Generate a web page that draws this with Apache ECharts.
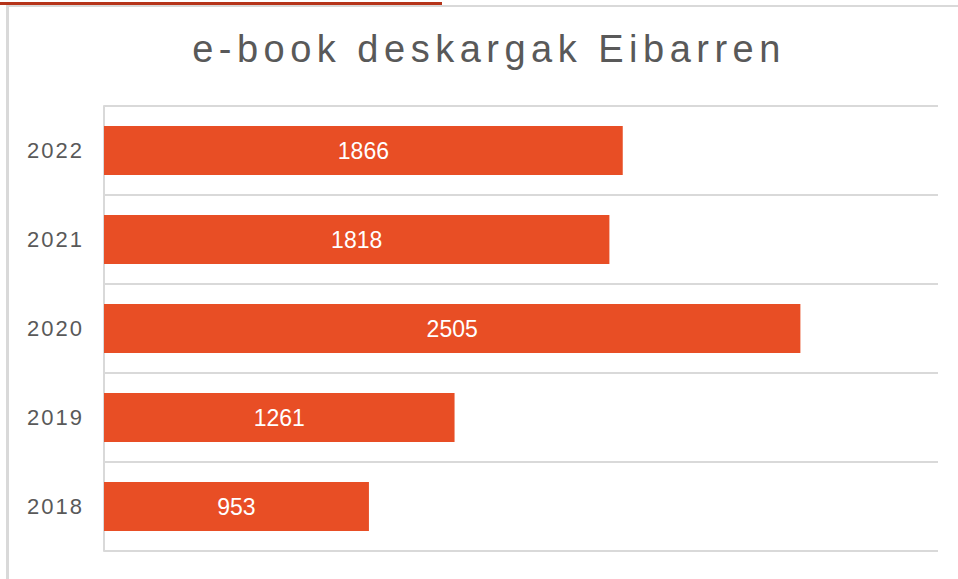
<!DOCTYPE html>
<html>
<head>
<meta charset="utf-8">
<script src="https://cdn.jsdelivr.net/npm/echarts@6/dist/echarts.min.js"></script>
<style>
  html, body { margin: 0; padding: 0; background: #fff; }
  #chart { width: 958px; height: 579px; }
  /* spaced-out lettering like the original */
  #chart text { letter-spacing: 2px; }
  #chart text[style*="38px"] { letter-spacing: 5.5px; }
  #chart text[style*="23px"] { letter-spacing: 0; }
</style>
</head>
<body>
<div id="chart"></div>
<script>
// data
const years = ['2018', '2019', '2020', '2021', '2022'];
const downloads = [953, 1261, 2505, 1818, 1866];

const textGray = '#595959';
const lineGray = '#d9d9d9';

var myChart = echarts.init(document.getElementById('chart'), null, { renderer: 'svg' });

var option = {
  backgroundColor: '#fff',
  animation: false,
  title: {
    text: 'e-book deskargak Eibarren',
    left: 489,
    top: 30,
    textAlign: 'center',
    padding: 0,
    textStyle: {
      fontFamily: 'Liberation Sans, Arial, sans-serif',
      fontSize: 38,
      fontWeight: 'normal',
      color: textGray
    }
  },
  graphic: [
    // red accent at the top, and the thin card border
    { type: 'rect', shape: { x: 0, y: 2, width: 442, height: 3 }, style: { fill: '#b5341a' }, silent: true },
    { type: 'rect', shape: { x: 442, y: 5, width: 516, height: 2 }, style: { fill: lineGray }, silent: true },
    { type: 'rect', shape: { x: 6, y: 5, width: 436, height: 2 }, style: { fill: lineGray }, silent: true },
    { type: 'rect', shape: { x: 6, y: 5, width: 3, height: 574 }, style: { fill: lineGray }, silent: true }
  ],
  grid: {
    left: 104,
    right: 20,
    top: 106,
    bottom: 28,
    containLabel: false
  },
  xAxis: {
    type: 'value',
    min: 0,
    max: 3000,
    axisLine: { show: false },
    axisTick: { show: false },
    axisLabel: { show: false },
    splitLine: { show: false }
  },
  yAxis: {
    type: 'category',
    data: years,
    axisLine: { show: true, lineStyle: { color: lineGray, width: 2 } },
    axisTick: { show: false },
    axisLabel: {
      margin: 20,
      fontFamily: 'Liberation Sans, Arial, sans-serif',
      fontSize: 22,
      color: textGray
    },
    splitLine: { show: true, lineStyle: { color: lineGray, width: 2 } }
  },
  series: [{
    type: 'bar',
    data: downloads,
    barWidth: 49,
    itemStyle: { color: '#e84e25' },
    label: {
      show: true,
      position: 'inside',
      color: '#fff',
      fontFamily: 'Liberation Sans, Arial, sans-serif',
      fontSize: 23
    }
  }]
};

myChart.setOption(option);
</script>
</body>
</html>
